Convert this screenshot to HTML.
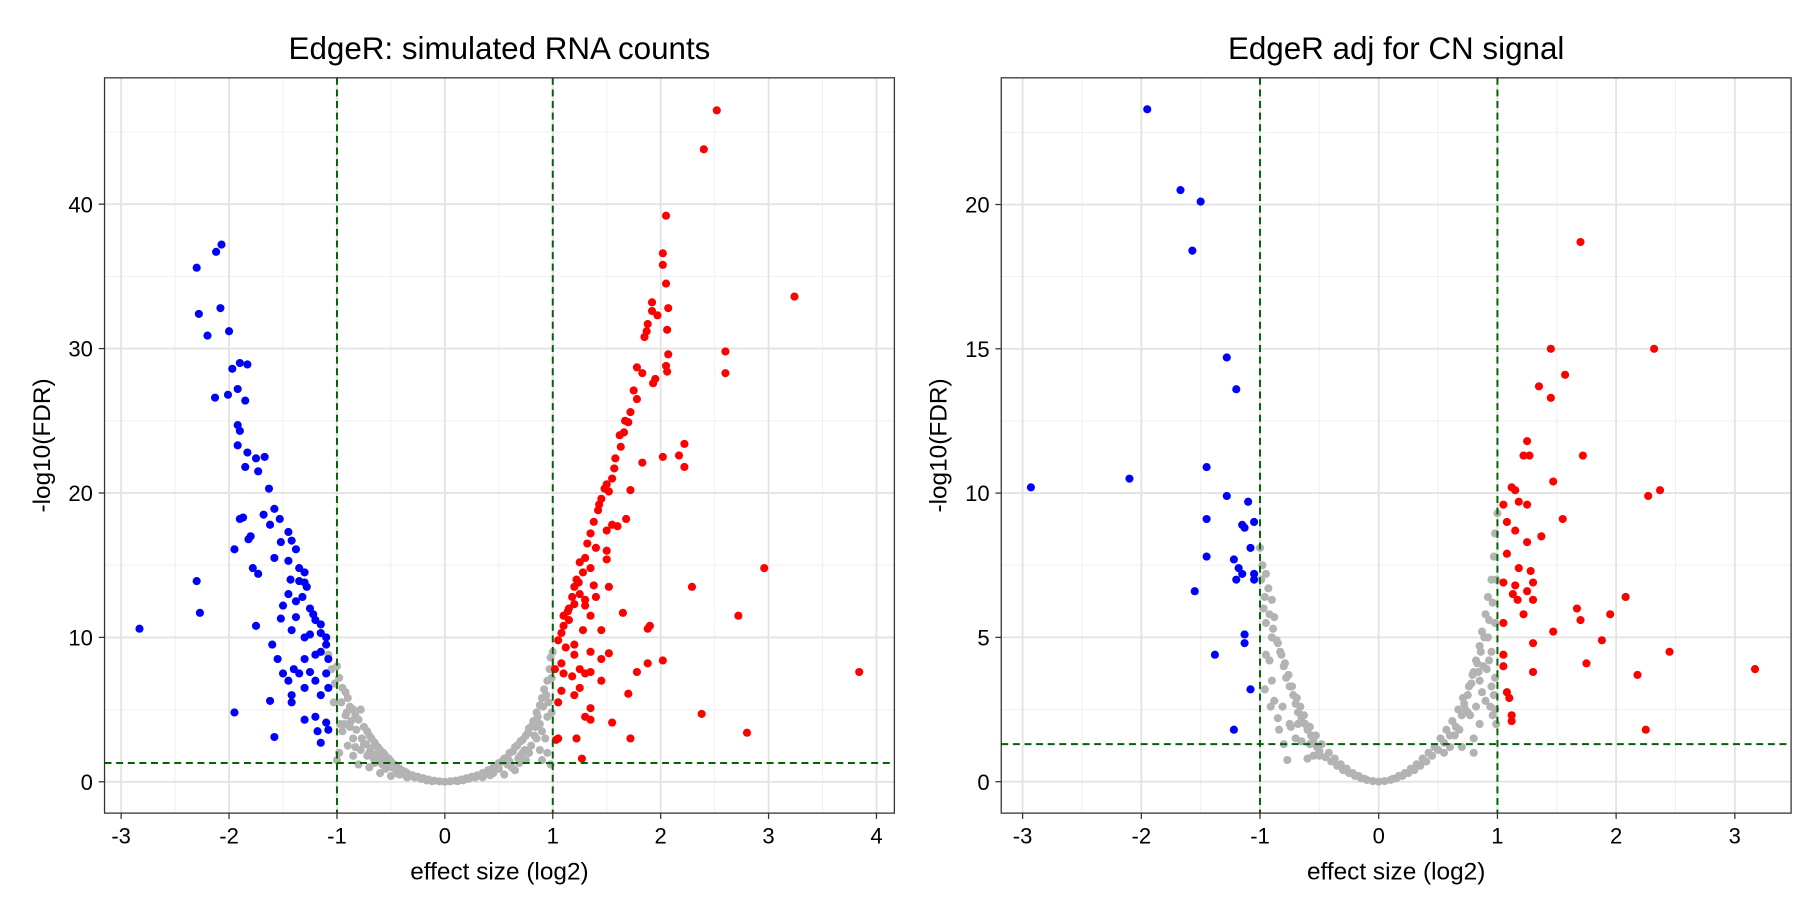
<!DOCTYPE html>
<html><head><meta charset="utf-8"><style>
html,body{margin:0;padding:0;background:#fff}
svg{display:block}
text{font-family:"Liberation Sans",Arial,sans-serif;fill:#000}
</style></head><body>
<svg id="chart" width="1812" height="910" viewBox="0 0 1560 783.4" preserveAspectRatio="none"></svg>
<script>
// Panel 1 data: EdgeR simulated RNA counts
const p1BlueX=[-2.83,-2.3,-2.28,-2.2,-2.12,-2.07,-2.08,-2.0,-2.13,-2.01,-1.97,-1.9,-1.83,-1.92,-1.85,-1.92,-1.9,-1.92,-1.83,-1.75,-1.67,-1.85,-1.73,-1.63,-1.87,-1.9,-1.82,-1.8,-1.68,-1.58,-1.62,-1.53,-1.45,-1.42,-1.38,-1.52,-1.58,-1.45,-1.35,-1.3,-1.43,-1.35,-1.3,-1.28,-1.45,-1.5,-1.38,-1.32,-1.25,-1.22,-1.2,-1.15,-1.15,-1.38,-1.52,-1.42,-1.3,-1.25,-1.1,-1.1,-1.15,-1.08,-1.2,-1.3,-1.4,-1.5,-1.45,-1.35,-1.25,-1.2,-1.1,-1.08,-1.15,-1.3,-1.42,-1.42,-1.6,-1.55,-1.75,-1.73,-1.78,-1.95,-2.3,-2.27,-1.95,-1.62,-1.58,-1.3,-1.2,-1.1,-1.08,-1.15,-1.18];
const p1BlueY=[10.6,35.6,32.4,30.9,36.7,37.2,32.8,31.2,26.6,26.8,28.6,29,28.9,27.2,26.4,24.7,24.3,23.3,22.8,22.4,22.5,21.8,21.5,20.3,18.3,18.2,16.8,17.0,18.5,18.9,17.8,18.2,17.3,16.7,16.1,16.6,15.5,15.3,14.8,14.5,14.0,13.9,13.8,13.5,13.0,12.2,12.5,12.8,12.0,11.6,11.2,10.9,10.3,11.4,11.3,10.5,10.0,10.2,10.0,9.5,9.0,8.5,8.8,8.5,7.8,7.5,7.0,7.5,7.6,7.0,7.5,6.5,6.0,6.5,6.0,5.5,9.5,8.5,10.8,14.4,14.8,16.1,13.9,11.7,4.8,5.6,3.1,4.3,4.5,4.1,3.6,2.7,3.5];
const p1RedX=[2.52,2.4,2.05,2.02,2.02,2.05,3.24,1.92,1.92,1.97,2.07,1.88,1.85,1.87,2.06,2.6,2.07,1.78,1.83,2.05,2.06,1.93,1.95,2.6,1.75,1.78,1.72,1.7,1.67,1.62,1.66,1.63,1.58,2.22,2.17,2.02,2.22,1.83,1.57,1.55,1.5,1.48,1.52,1.45,1.43,1.42,1.72,1.68,1.55,1.6,1.5,1.38,1.35,1.32,1.4,1.5,1.5,1.3,1.25,1.35,1.28,1.22,1.2,1.25,1.3,1.2,1.15,1.1,1.15,1.1,1.08,1.05,1.12,1.2,1.28,1.38,1.4,1.35,1.52,1.45,1.65,1.35,1.45,1.52,1.2,1.08,1.02,1.1,1.18,1.25,1.3,1.35,1.25,1.2,1.08,1.05,1.35,1.3,1.35,1.55,1.7,1.88,1.9,1.78,2.02,1.72,2.38,2.29,2.72,2.96,2.8,3.84,1.03,1.05,1.22,1.27,1.88,1.45,1.18,1.24,1.14,1.3];
const p1RedY=[46.5,43.8,39.2,36.6,35.8,34.5,33.6,33.2,32.6,32.3,32.8,31.7,30.8,31.2,31.3,29.8,29.6,28.7,28.3,28.8,28.4,27.6,27.9,28.3,27.1,26.5,25.6,24.9,25.0,24.0,24.2,23.2,22.4,23.4,22.6,22.5,21.8,22.1,21.7,21.0,20.6,20.3,20.1,19.6,19.2,18.8,20.2,18.2,17.8,17.7,17.4,18.0,17.2,16.5,16.2,16.0,15.4,15.5,15.2,14.8,14.5,14.0,13.5,13.0,12.6,12.3,12.0,11.5,11.2,10.8,10.3,9.8,9.3,9.5,10.5,13.6,12.8,11.5,13.5,10.5,11.7,9.0,8.5,8.9,8.8,8.2,7.8,7.5,7.3,7.8,7.5,7.6,6.5,6.0,6.3,5.5,5.1,4.5,4.3,4.1,6.1,10.6,10.8,7.6,8.4,3.0,4.7,13.5,11.5,14.8,3.4,7.6,2.9,3.0,3.0,1.6,8.2,7.0,12.8,13.8,11.8,12.2];
const p1GreyX=[-1.08,-1.05,-1.0,-0.98,-0.95,-0.92,-0.9,-0.88,-0.85,-0.83,-0.8,-0.78,-0.75,-0.72,-0.7,-0.68,-0.65,-0.62,-0.6,-0.57,-0.55,-0.52,-0.5,-0.47,-0.45,-0.42,-0.4,-0.37,-0.35,-0.3,-0.25,-0.2,-0.15,-0.1,-0.05,0,0.05,0.1,0.15,0.2,0.25,0.3,0.35,0.4,0.45,0.5,0.55,0.6,0.65,0.7,0.75,0.78,0.82,0.85,0.88,0.9,0.92,0.95,0.97,0.98,1.0,-0.9,-0.8,-0.7,-0.6,-0.5,-0.95,-1.0,0.9,0.85,0.75,0.65,0.55,0.95,0.95,-0.85,-0.7,0.7,0.9,0.98,-0.98,-0.85,-0.65,0.8,0.62,-0.75,-0.58,-0.45,-0.35,0.35,0.45,0.58,0.72,0.83,-0.93,-0.62,0.68,0.88,
 -1.02,-0.96,-0.91,-0.87,-0.82,-0.77,-0.73,-0.69,-0.64,-0.59,-0.54,-0.49,-0.44,-0.39,-0.33,-0.28,-0.22,-0.17,-0.12,0.12,0.17,0.22,0.28,0.33,0.38,0.43,0.48,0.53,0.58,0.63,0.67,0.72,0.77,0.81,0.86,0.91,0.94,0.99,-1.03,-0.88,-0.78,-0.66,-0.55,-0.42,0.42,0.5,0.6,0.78,0.93,0.96,0.88,-0.97,-0.92,-0.72,0.74,0.84,0.99,-0.83,0.69];
const p1GreyY=[8.8,7.8,8.0,7.2,6.5,6.2,5.8,5.2,5.0,4.6,4.3,5.0,3.8,3.5,3.2,3.0,2.7,2.4,2.2,2.0,1.8,1.6,1.4,1.2,1.1,0.9,0.8,0.7,0.6,0.45,0.35,0.25,0.15,0.08,0.03,0.0,0.03,0.08,0.15,0.25,0.35,0.45,0.6,0.8,1.0,1.3,1.6,2.0,2.4,2.8,3.2,3.7,4.2,4.8,5.3,5.8,6.4,7.0,7.8,8.6,9.0,2.5,1.2,1.0,0.6,0.4,3.5,1.5,1.5,3.0,1.5,0.8,0.5,2.0,4.5,3.0,2.0,1.8,3.5,1.2,2.0,1.8,1.3,2.5,1.0,2.6,1.2,0.6,0.3,0.3,0.6,1.2,2.0,3.2,4.0,1.6,1.6,4.0,
 6.8,5.5,4.8,4.2,3.6,3.0,2.6,2.3,1.9,1.5,1.3,1.0,0.8,0.55,0.4,0.3,0.2,0.1,0.05,0.05,0.1,0.2,0.3,0.45,0.6,0.8,1.1,1.4,1.7,2.1,2.5,2.9,3.4,3.9,4.5,5.2,6.0,7.2,5.5,3.8,2.2,1.6,0.9,0.5,0.45,0.9,1.4,2.0,3.0,5.5,2.2,4.0,4.6,1.8,2.2,3.8,4.8,2.4,1.3];
// Panel 2 data: EdgeR adj for CN signal
const p2BlueX=[-2.93,-2.1,-1.95,-1.67,-1.5,-1.57,-1.28,-1.2,-1.45,-1.28,-1.45,-1.1,-1.13,-1.15,-1.05,-1.08,-1.45,-1.22,-1.18,-1.15,-1.05,-1.05,-1.2,-1.55,-1.13,-1.13,-1.38,-1.08,-1.22];
const p2BlueY=[10.2,10.5,23.3,20.5,20.1,18.4,14.7,13.6,10.9,9.9,9.1,9.7,8.8,8.9,9.0,8.1,7.8,7.7,7.4,7.2,7.2,7.0,7.0,6.6,5.1,4.8,4.4,3.2,1.8];
const p2RedX=[1.7,1.45,2.32,1.57,1.35,1.45,1.25,1.22,1.27,1.72,1.47,1.12,1.15,1.18,1.25,1.05,2.37,2.27,1.55,1.08,1.15,1.37,1.25,1.08,1.18,1.28,1.3,1.15,1.05,1.25,1.13,1.17,1.3,2.08,1.67,1.95,1.05,1.7,1.22,1.47,1.88,1.3,2.45,3.17,1.05,1.75,2.18,1.05,1.3,1.08,1.1,1.12,1.12,2.25];
const p2RedY=[18.7,15.0,15.0,14.1,13.7,13.3,11.8,11.3,11.3,11.3,10.4,10.2,10.1,9.7,9.6,9.6,10.1,9.9,9.1,9.0,8.7,8.5,8.3,7.9,7.4,7.3,6.9,6.8,6.9,6.6,6.5,6.3,6.3,6.4,6.0,5.8,5.5,5.6,5.8,5.2,4.9,4.8,4.5,3.9,4.4,4.1,3.7,4.0,3.8,3.1,2.9,2.3,2.1,1.8];
const p2GreyX=[-1.0,-0.98,-0.95,-0.93,-0.9,-0.97,-0.95,-0.88,-0.9,-0.85,-0.95,-0.82,-0.8,-0.78,-0.75,-0.72,-0.7,-0.68,-0.65,-0.62,-0.6,-0.57,-0.55,-0.52,-0.5,-0.45,-0.4,-0.35,-0.3,-0.25,-0.2,-0.15,-0.1,-0.05,0,0.05,0.1,0.15,0.2,0.25,0.3,0.35,0.4,0.45,0.5,0.55,0.6,0.65,0.7,0.72,0.75,0.78,0.8,0.82,0.85,0.87,0.9,0.92,0.95,0.97,0.98,1.0,0.95,0.98,0.85,0.9,0.8,0.98,-0.8,-0.77,-0.6,-0.85,-0.7,0.8,0.7,0.85,0.95,0.98,-0.9,-0.75,-0.65,-0.55,0.6,0.75,0.88,-0.92,0.92,
 -0.99,-0.96,-0.92,-0.89,-0.86,-0.83,-0.79,-0.76,-0.73,-0.69,-0.66,-0.63,-0.58,-0.53,-0.48,-0.42,-0.37,-0.32,-0.27,-0.22,-0.17,-0.12,0.12,0.17,0.22,0.27,0.32,0.37,0.42,0.47,0.52,0.57,0.62,0.67,0.71,0.76,0.79,0.83,0.86,0.89,0.93,0.96,0.99,0.97,0.94,0.91,0.87,0.82,0.77,0.68,-0.96,-0.91,-0.84,-0.74,-0.68,-0.58,-0.5,0.55,0.64,0.73,0.84,0.96,0.99,0.93,-0.88,-0.81];
const p2GreyY=[8.1,7.5,7.2,6.7,6.3,6.0,5.5,5.7,5.0,4.8,4.4,4.4,4.0,3.6,3.3,3.0,2.7,2.4,2.2,2.0,1.8,1.6,1.4,1.2,1.05,0.85,0.7,0.55,0.4,0.3,0.2,0.12,0.06,0.02,0,0.02,0.06,0.12,0.2,0.3,0.4,0.55,0.7,0.9,1.1,1.35,1.6,1.9,2.3,2.7,3.0,3.4,3.8,4.2,4.7,5.2,5.8,6.4,7.0,7.8,8.6,9.3,3.3,2.5,2.0,2.8,1.5,3.6,1.3,0.75,0.8,2.2,1.5,1.0,1.2,3.5,4.5,5.5,3.5,2.0,1.4,0.9,1.2,2.4,4.0,4.2,5.0,
 7.0,6.4,5.8,5.3,4.9,4.5,4.1,3.7,3.3,2.9,2.6,2.3,1.9,1.6,1.3,1.0,0.8,0.6,0.45,0.3,0.2,0.1,0.1,0.2,0.3,0.45,0.6,0.8,1.0,1.2,1.5,1.8,2.1,2.5,2.9,3.3,3.7,4.1,4.5,5.0,5.6,6.2,7.0,3.0,2.6,3.9,3.1,2.6,2.3,1.8,3.2,2.6,1.8,1.9,2.0,1.3,0.9,1.0,1.6,2.5,3.8,2.3,2.0,4.2,2.8,2.6];
// Axis tick labels
const p1XTicks=[-3,-2,-1,0,1,2,3,4];
const p1YTicks=[0,10,20,30,40];
const p2XTicks=[-3,-2,-1,0,1,2,3];
const p2YTicks=[0,5,10,15,20];

const NS='http://www.w3.org/2000/svg';
const svg=document.getElementById('chart');
function mk(tag,attrs,parent){const e=document.createElementNS(NS,tag);for(const k in attrs)e.setAttribute(k,attrs[k]);(parent||svg).appendChild(e);return e;}

function panel(cfg){
  const g=mk('g',{});
  
  
  const L=cfg.left,R=cfg.right,T=67,B=700;
  const sx=v=>L+(v-cfg.xmin)/(cfg.xmax-cfg.xmin)*(R-L);
  const sy=v=>B-(v-cfg.ymin)/(cfg.ymax-cfg.ymin)*(B-T);
  const bg=mk('rect',{x:L,y:T,width:R-L,height:B-T,fill:'#fff'},g);
  
  
  for(let i=0;i<cfg.xTicks.length-1;i++){const v=(cfg.xTicks[i]+cfg.xTicks[i+1])/2;mk('line',{x1:sx(v),x2:sx(v),y1:T,y2:B,stroke:'#f0f0f0','stroke-width':0.9},g);}
  {const v=cfg.xTicks[cfg.xTicks.length-1]+0.5;if(v<cfg.xmax)mk('line',{x1:sx(v),x2:sx(v),y1:T,y2:B,stroke:'#f0f0f0','stroke-width':0.9},g);}
  const st=cfg.yTicks[1]-cfg.yTicks[0];
  for(let v=cfg.yTicks[0]-st/2;v<cfg.ymax;v+=st){if(v>cfg.ymin)mk('line',{x1:L,x2:R,y1:sy(v),y2:sy(v),stroke:'#f0f0f0','stroke-width':0.9},g);}
  cfg.xTicks.forEach(v=>mk('line',{x1:sx(v),x2:sx(v),y1:T,y2:B,stroke:'#e3e3e3','stroke-width':1.6},g));
  cfg.yTicks.forEach(v=>mk('line',{x1:L,x2:R,y1:sy(v),y2:sy(v),stroke:'#e3e3e3','stroke-width':1.6},g));
  const pts=(xs,ys,col,nm)=>{const pg=mk('g',{},g);
    xs.forEach((x,i)=>{const c=mk('circle',{cx:sx(x),cy:sy(ys[i]),r:3.5,fill:col},pg);
      
      });};
  pts(cfg.gx,cfg.gy,'#b3b3b3','grey-points');
  pts(cfg.bx,cfg.by,'#0000ff','blue-points');
  pts(cfg.rx,cfg.ry,'#ff0000','red-points');
  [-1,1].forEach(v=>{const l=mk('line',{x1:sx(v),x2:sx(v),y1:T,y2:B,stroke:'#006400','stroke-width':1.7,'stroke-dasharray':'6,4'},g);
    
    });
  const h=mk('line',{x1:L,x2:R,y1:sy(1.301),y2:sy(1.301),stroke:'#006400','stroke-width':1.7,'stroke-dasharray':'6,4'},g);
  
  
  const fr=mk('rect',{x:L,y:T,width:R-L,height:B-T,fill:'none',stroke:'#333','stroke-width':1.1},g);
  
  
  cfg.xTicks.forEach(v=>{mk('line',{x1:sx(v),x2:sx(v),y1:B,y2:B+5,stroke:'#333','stroke-width':1.1},g);
    const t=mk('text',{x:sx(v),y:B+26,'font-size':19,'text-anchor':'middle',fill:'#222'},g);t.textContent=v;
    
    });
  cfg.yTicks.forEach(v=>{mk('line',{x1:L-5,x2:L,y1:sy(v),y2:sy(v),stroke:'#333','stroke-width':1.1},g);
    const t=mk('text',{x:L-10,y:sy(v)+7,'font-size':19,'text-anchor':'end',fill:'#222'},g);t.textContent=v;
    
    });
  const xt=mk('text',{x:(L+R)/2,y:757,'font-size':21,'text-anchor':'middle'},g);xt.textContent='effect size (log2)';
  
  
  const yx=L-47,yy=(T+B)/2;
  const yt=mk('text',{x:yx,y:yy,'font-size':21,'text-anchor':'middle',transform:`rotate(-90 ${yx} ${yy})`},g);yt.textContent='-log10(FDR)';
  
  
  const tt=mk('text',{x:(L+R)/2,y:51,'font-size':27,'text-anchor':'middle'},g);tt.textContent=cfg.title;
  
  
}
panel({name:'panel-simulated-rna',title:'EdgeR: simulated RNA counts',left:90,right:770,xmin:-3.154,xmax:4.166,ymin:-2.17,ymax:48.75,
  xTicks:p1XTicks,yTicks:p1YTicks,gx:p1GreyX,gy:p1GreyY,bx:p1BlueX,by:p1BlueY,rx:p1RedX,ry:p1RedY});
panel({name:'panel-adj-cn',title:'EdgeR adj for CN signal',left:862,right:1542,xmin:-3.18,xmax:3.474,ymin:-1.09,ymax:24.39,
  xTicks:p2XTicks,yTicks:p2YTicks,gx:p2GreyX,gy:p2GreyY,bx:p2BlueX,by:p2BlueY,rx:p2RedX,ry:p2RedY});
</script>
</body></html>
